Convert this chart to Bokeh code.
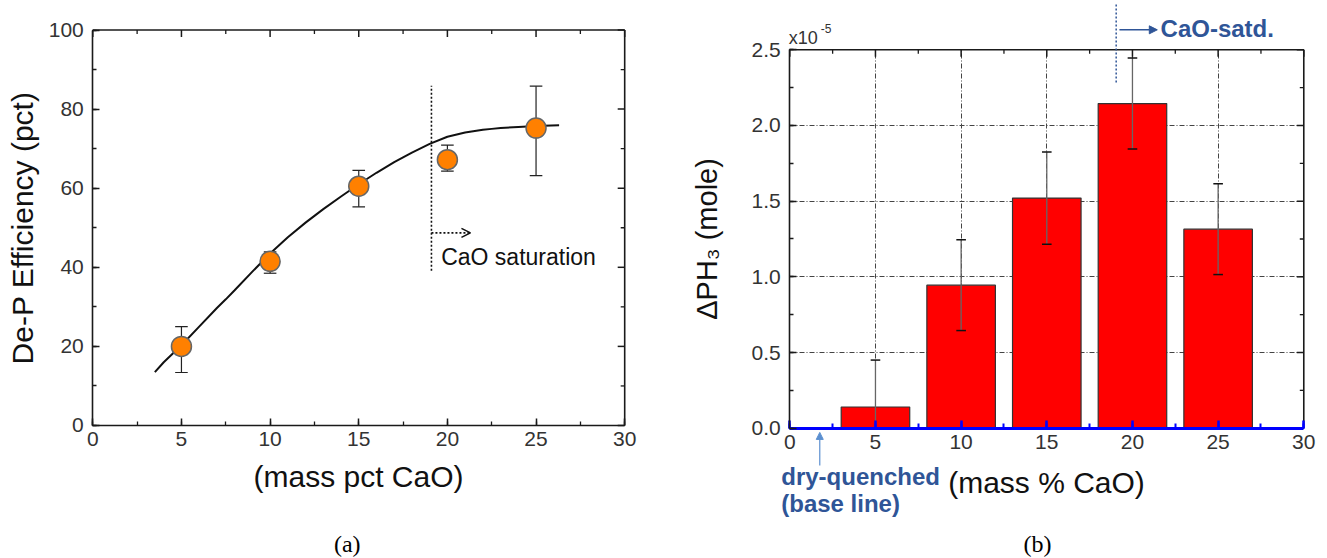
import numpy as np
from bokeh.plotting import figure
from bokeh.layouts import row
from bokeh.models import (Range1d, SingleIntervalTicker, Label, Arrow,
                          OpenHead, NormalHead, ColumnDataSource, NumeralTickFormatter)
from bokeh.embed import file_html
from bokeh.resources import INLINE

# ---------------- data (a) ----------------
cao_a = [5, 10, 15, 20, 25]
eff = [20.0, 41.5, 60.5, 67.2, 75.2]
eff_lo = [13.4, 38.5, 55.3, 64.3, 63.2]
eff_hi = [25.0, 43.9, 64.5, 70.9, 85.8]
fit_x = [3.5, 4, 5, 6, 7, 7.5, 8, 9, 10, 11, 12, 12.5, 13, 14, 15, 16, 17, 17.5, 18, 19, 20, 21, 22, 22.5, 23, 24, 25, 26.3]
fit_y = [13.5, 16.0, 20.3, 25.0, 29.7, 31.9, 34.2, 38.9, 43.5, 47.6, 51.3, 53.0, 54.7, 57.9, 61.0, 63.9, 66.6, 67.8, 69.0, 71.2, 73.0, 74.1, 74.8, 75.0, 75.2, 75.5, 75.7, 75.9]
sat_x = 19.1

# ---------------- data (b) ----------------
cao_b = [5, 10, 15, 20, 25]
dph3 = [0.14, 0.945, 1.52, 2.145, 1.315]      # x 1e-5 mole
dph3_err = [0.31, 0.30, 0.305, 0.30, 0.30]
satd_x = 19.05

FONT = "Liberation Sans"
TICK_COL = "#333333"
LINE_COL = "#1a1a1a"
NOTE_BLUE = "#2F5597"


def style_axis(ax):
    ax.major_tick_in = 7
    ax.major_tick_out = 0
    ax.minor_tick_in = 4
    ax.minor_tick_out = 0
    ax.axis_line_width = 1.6
    ax.axis_line_color = LINE_COL
    ax.major_tick_line_color = LINE_COL
    ax.minor_tick_line_color = LINE_COL
    ax.major_tick_line_width = 1.5
    ax.minor_tick_line_width = 1.3
    ax.major_label_text_font = FONT
    ax.major_label_text_font_size = "21px"
    ax.major_label_text_color = TICK_COL
    ax.axis_label_text_font = FONT
    ax.axis_label_text_font_style = "normal"
    ax.axis_label_text_font_size = "30px"
    ax.axis_label_text_color = "#111111"


def make_fig(width, xr, yr):
    p = figure(width=width, height=558, output_backend="svg", toolbar_location=None,
               x_range=Range1d(*xr), y_range=Range1d(*yr),
               min_border_left=0, min_border_right=0, min_border_top=0, min_border_bottom=0)
    p.outline_line_color = None
    return p


def mirror_frame(p, x0, x1, y0, y1, xstep, ystep):
    """Top and right frame edges with inward ticks (mirrors of the bottom/left axes)."""
    p.segment(x0=[x0, x1], y0=[y1, y0], x1=[x1, x1], y1=[y1, y1],
              line_color=LINE_COL, line_width=1.6)
    xmaj = np.arange(x0, x1 + 1e-9, xstep)
    xmin = xmaj[:-1] + xstep / 2
    ymaj = np.arange(y0, y1 + 1e-9, ystep)
    ymin = ymaj[:-1] + ystep / 2
    p.ray(x=xmaj, y=[y1] * len(xmaj), length=7, length_units="screen", angle=-np.pi / 2,
          line_color=LINE_COL, line_width=1.5)
    p.ray(x=xmin, y=[y1] * len(xmin), length=4, length_units="screen", angle=-np.pi / 2,
          line_color=LINE_COL, line_width=1.3)
    p.ray(x=[x1] * len(ymaj), y=ymaj, length=7, length_units="screen", angle=np.pi,
          line_color=LINE_COL, line_width=1.5)
    p.ray(x=[x1] * len(ymin), y=ymin, length=4, length_units="screen", angle=np.pi,
          line_color=LINE_COL, line_width=1.3)


# ================= panel (a) =================
pa = make_fig(664, (-5.206, 32.245), (-33.63, 107.46))
pa.grid.visible = False
xa = pa.xaxis[0]
ya = pa.yaxis[0]
xa.ticker = SingleIntervalTicker(interval=5, num_minor_ticks=2)
ya.ticker = SingleIntervalTicker(interval=20, num_minor_ticks=2)
style_axis(xa)
style_axis(ya)
xa.fixed_location = 0
ya.fixed_location = 0
xa.bounds = (0, 30)
ya.bounds = (0, 100)
xa.axis_label = "(mass pct CaO)"
ya.axis_label = "De-P Efficiency (pct)"
xa.major_label_standoff = 7
ya.major_label_standoff = 9
xa.axis_label_standoff = 10
ya.axis_label_standoff = 6
mirror_frame(pa, 0, 30, 0, 100, 5, 20)

pa.line(fit_x, fit_y, line_color="#111111", line_width=2)
src_a = ColumnDataSource(dict(x=cao_a, y=eff, lo=eff_lo, hi=eff_hi,
                              xl=[v - 0.355 for v in cao_a], xr=[v + 0.355 for v in cao_a]))
pa.segment(x0="x", y0="lo", x1="x", y1="hi", source=src_a, line_color="#222222", line_width=1.2)
pa.segment(x0="xl", y0="lo", x1="xr", y1="lo", source=src_a, line_color="#222222", line_width=1.2)
pa.segment(x0="xl", y0="hi", x1="xr", y1="hi", source=src_a, line_color="#222222", line_width=1.2)
pa.scatter("x", "y", source=src_a, size=20, fill_color="#FF8000",
           line_color="#666666", line_width=1.5)
pa.segment(x0=[sat_x], y0=[39.1], x1=[sat_x], y1=[85.9], line_color="#111111",
           line_width=1.6, line_dash="2 2")
pa.add_layout(Arrow(x_start=sat_x, y_start=48.7, x_end=21.3, y_end=48.7,
                    line_color="#111111", line_width=1.6, line_dash="2 2",
                    end=OpenHead(size=9, line_color="#111111", line_width=1.6)))
pa.add_layout(Label(x=19.65, y=42.5, text="CaO saturation", text_font=FONT,
                    text_font_size="23px", text_baseline="middle", text_color="#111111"))
pa.add_layout(Label(x=14.35, y=-29.84, text="(a)", text_font="Liberation Serif",
                    text_font_size="24px", text_align="center", text_baseline="middle",
                    text_color="#000000"))

# ================= panel (b) =================
pb = make_fig(663, (-7.313, 31.384), (-0.861, 2.8257))
xb = pb.xaxis[0]
yb = pb.yaxis[0]
xb.ticker = SingleIntervalTicker(interval=5, num_minor_ticks=2)
yb.ticker = SingleIntervalTicker(interval=0.5, num_minor_ticks=2)
yb.formatter = NumeralTickFormatter(format="0.0")
style_axis(xb)
style_axis(yb)
xb.fixed_location = 0
yb.fixed_location = 0
xb.bounds = (0, 30)
yb.bounds = (0, 2.5)
xb.axis_label = "(mass % CaO)"
yb.axis_label = "ΔPH₃ (mole)"
yb.axis_label_text_font_size = "29px"
xb.major_label_standoff = 7
yb.major_label_standoff = 9
xb.axis_label_standoff = 13
yb.axis_label_standoff = 25
# blue baseline axis
xb.axis_line_color = "#0000FF"
xb.axis_line_width = 3
xb.major_tick_line_color = "#0000FF"
xb.minor_tick_line_color = "#0000FF"
xb.major_tick_line_width = 2.5
xb.minor_tick_line_width = 2
xb.major_tick_in = 8
xb.minor_tick_in = 5

for g, b, cb in ((pb.xgrid[0], (0, 30), (0, 2.5)), (pb.ygrid[0], (0, 2.5), (0, 30))):
    g.grid_line_color = "#444444"
    g.grid_line_dash = "5 2 1 2"
    g.grid_line_width = 1
    g.bounds = b
    g.cross_bounds = cb

mirror_frame(pb, 0, 30, 0, 2.5, 5, 0.5)

lo_b = [max(v - e, 0.0) for v, e in zip(dph3, dph3_err)]
hi_b = [v + e for v, e in zip(dph3, dph3_err)]
src_b = ColumnDataSource(dict(x=cao_b, top=dph3, lo=lo_b, hi=hi_b,
                              xl=[v - 0.28 for v in cao_b], xr=[v + 0.28 for v in cao_b]))
cap_lo = ColumnDataSource(dict(
    xl=[x - 0.28 for x, l in zip(cao_b, lo_b) if l > 0],
    xr=[x + 0.28 for x, l in zip(cao_b, lo_b) if l > 0],
    y=[l for l in lo_b if l > 0]))
pb.vbar(x="x", top="top", bottom=0, width=4, source=src_b, fill_color="#FF0000",
        line_color="#333333", line_width=1.2)
pb.segment(x0="x", y0="lo", x1="x", y1="hi", source=src_b, line_color="#666666", line_width=1.3)
pb.segment(x0="xl", y0="y", x1="xr", y1="y", source=cap_lo, line_color="#111111", line_width=1.5)
pb.segment(x0="xl", y0="hi", x1="xr", y1="hi", source=src_b, line_color="#111111", line_width=1.5)

pb.add_layout(Label(x=0, y=2.579, x_offset=-1, text="x10", text_font=FONT,
                    text_font_size="18px", text_baseline="alphabetic", text_color="#333333"))
pb.add_layout(Label(x=0, y=2.641, x_offset=31, text="-5", text_font=FONT,
                    text_font_size="12px", text_baseline="alphabetic", text_color="#333333"))
pb.segment(x0=[satd_x], y0=[2.284], x1=[satd_x], y1=[2.80], line_color=NOTE_BLUE,
           line_width=1.5, line_dash="2 2")
pb.add_layout(Arrow(x_start=19.24, y_start=2.632, x_end=21.45, y_end=2.632,
                    line_color=NOTE_BLUE, line_width=1.6,
                    end=NormalHead(size=8, fill_color=NOTE_BLUE, line_color=NOTE_BLUE)))
pb.add_layout(Label(x=21.64, y=2.641, text="CaO-satd.", text_font=FONT, text_font_style="bold",
                    text_font_size="24px", text_baseline="middle", text_color=NOTE_BLUE))
pb.add_layout(Arrow(x_start=1.75, y_start=-0.246, x_end=1.75, y_end=-0.028,
                    line_color="#5B8FD0", line_width=1.2,
                    end=NormalHead(size=7, fill_color="#5B8FD0", line_color="#5B8FD0")))
pb.add_layout(Label(x=-0.50, y=-0.319, text="dry-quenched", text_font=FONT, text_font_style="bold",
                    text_font_size="24px", text_baseline="middle", text_color=NOTE_BLUE))
pb.add_layout(Label(x=-0.50, y=-0.497, text="(base line)", text_font=FONT, text_font_style="bold",
                    text_font_size="24px", text_baseline="middle", text_color=NOTE_BLUE))
pb.add_layout(Label(x=14.46, y=-0.762, text="(b)", text_font="Liberation Serif",
                    text_font_size="24px", text_align="center", text_baseline="middle",
                    text_color="#000000"))

layout = row(pa, pb, spacing=0)
open("out.html", "w").write(file_html(layout, INLINE))
